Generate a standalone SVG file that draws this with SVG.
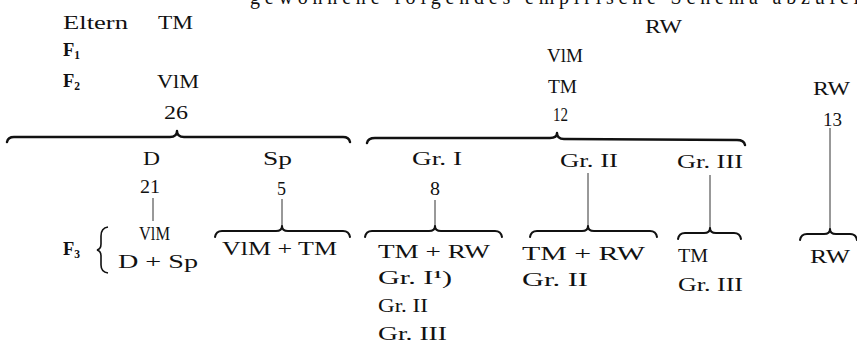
<svg xmlns="http://www.w3.org/2000/svg" width="857" height="349" viewBox="0 0 857 349">
<style>
text{font-family:"Liberation Serif","DejaVu Serif",serif;font-size:18.5px;fill:#111;}
.b{font-weight:bold;}
.sub{font-size:11.5px;font-weight:bold;}
.sup{font-size:10.5px;font-weight:bold;}
.hd{font-size:20px;}
.br{fill:none;stroke:#111;stroke-width:2;stroke-linecap:round;stroke-linejoin:round;}
.bbig{fill:none;stroke:#111;stroke-width:2.4;stroke-linecap:round;stroke-linejoin:round;}
.ln{stroke:#333;stroke-width:1;}
</style>
<rect width="857" height="349" fill="#fff"/>

<g id="header">
<text class="hd" x="250" y="4" textLength="648" lengthAdjust="spacing">gewonnene folgendes empirische Schema abzuleiten</text>
</g>

<g id="row-labels">
<text x="63" y="29" textLength="65" lengthAdjust="spacingAndGlyphs">Eltern</text>
<text x="63" y="56" class="b">F<tspan class="sub" dy="3">1</tspan></text>
<text x="63" y="87" class="b">F<tspan class="sub" dy="3">2</tspan></text>
<text x="63" y="255" class="b">F<tspan class="sub" dy="3">3</tspan></text>
</g>

<g id="tm-line">
<text x="158" y="29" textLength="35" lengthAdjust="spacingAndGlyphs">TM</text>
<text x="157" y="88" textLength="42" lengthAdjust="spacingAndGlyphs">VlM</text>
<text x="164" y="119" textLength="24" lengthAdjust="spacingAndGlyphs">26</text>
</g>

<g id="rw-line">
<text x="645" y="33" textLength="37" lengthAdjust="spacingAndGlyphs">RW</text>
<text x="547" y="62" textLength="36" lengthAdjust="spacingAndGlyphs">VlM</text>
<text x="548" y="93" textLength="29" lengthAdjust="spacingAndGlyphs">TM</text>
<text x="553" y="121" textLength="15" lengthAdjust="spacingAndGlyphs">12</text>
</g>

<g id="rw-right">
<text x="813" y="95" textLength="37" lengthAdjust="spacingAndGlyphs">RW</text>
<text x="823" y="126" textLength="19" lengthAdjust="spacingAndGlyphs">13</text>
</g>

<g id="group-D">
<text x="143" y="165" textLength="17" lengthAdjust="spacingAndGlyphs">D</text>
<text x="140" y="193" textLength="20" lengthAdjust="spacingAndGlyphs">21</text>
</g>
<g id="group-Sp">
<text x="263" y="165" textLength="29" lengthAdjust="spacingAndGlyphs">Sp</text>
<text x="277" y="195" textLength="9" lengthAdjust="spacingAndGlyphs">5</text>
</g>
<g id="group-GrI">
<text x="412" y="165" textLength="50" lengthAdjust="spacingAndGlyphs">Gr. I</text>
<text x="430" y="195" textLength="10" lengthAdjust="spacingAndGlyphs">8</text>
</g>
<g id="group-GrII">
<text x="560" y="167" textLength="58" lengthAdjust="spacingAndGlyphs">Gr. II</text>
</g>
<g id="group-GrIII">
<text x="677" y="168" textLength="66" lengthAdjust="spacingAndGlyphs">Gr. III</text>
</g>

<g id="f3-D">
<path d="M108,227 Q101,228 101,236 L101,244 Q101,249 97,250 Q101,251 101,256 L101,265 Q101,272 108,273" fill="none" stroke="#111" stroke-width="1.6"/>
<text x="139" y="240" textLength="31" lengthAdjust="spacingAndGlyphs">VlM</text>
<text x="118" y="268" textLength="80" lengthAdjust="spacingAndGlyphs">D + Sp</text>
</g>
<g id="f3-Sp">
<text x="222" y="255" textLength="115" lengthAdjust="spacingAndGlyphs">VlM + TM</text>
</g>
<g id="f3-GrI">
<text x="378" y="258" textLength="112" lengthAdjust="spacingAndGlyphs">TM + RW</text>
<text x="378" y="284" textLength="74" lengthAdjust="spacingAndGlyphs">Gr. I<tspan class="sup" dy="-6">1</tspan><tspan dy="6">)</tspan></text>
<text x="378" y="312" textLength="50" lengthAdjust="spacingAndGlyphs">Gr. II</text>
<text x="378" y="340" textLength="69" lengthAdjust="spacingAndGlyphs">Gr. III</text>
</g>
<g id="f3-GrII">
<text x="522" y="260" textLength="123" lengthAdjust="spacingAndGlyphs">TM + RW</text>
<text x="522" y="286" textLength="66" lengthAdjust="spacingAndGlyphs">Gr. II</text>
</g>
<g id="f3-GrIII">
<text x="678" y="262" textLength="30" lengthAdjust="spacingAndGlyphs">TM</text>
<text x="678" y="291" textLength="65" lengthAdjust="spacingAndGlyphs">Gr. III</text>
</g>
<g id="f3-RW">
<text x="810" y="263" textLength="40" lengthAdjust="spacingAndGlyphs">RW</text>
</g>

<g id="connectors">
<path class="bbig" d="M7,142 Q8,137 14,137 L170,137 Q177,137 177,131 Q177,137 184,137 L343,137 Q349,137 350,142"/>
<path class="bbig" d="M367,143 Q368,138 375,138 L550,138 Q557,138 557,133 Q557,139 564,139 L737,140 Q744,140 745,145"/>
<line class="ln" x1="153" y1="198" x2="153" y2="221"/>
<line class="ln" x1="282" y1="199" x2="282" y2="226"/>
<line class="ln" x1="435" y1="200" x2="435" y2="226"/>
<line class="ln" x1="588" y1="173" x2="588" y2="226"/>
<line class="ln" x1="710" y1="175" x2="710" y2="228"/>
<line class="ln" x1="830" y1="128" x2="830" y2="229"/>
<path class="br" d="M215,237 Q216,231 222,231 L276,231 Q282,231 282,226 Q282,231 288,231 L343,231 Q349,231 350,237"/>
<path class="br" d="M365,237 Q366,231 372,231 L429,231 Q435,231 435,226 Q435,231 441,231 L495,231 Q501,231 502,237"/>
<path class="br" d="M530,237 Q531,231 537,231 L582,231 Q588,231 588,226 Q588,231 594,231 L650,231 Q656,231 657,237"/>
<path class="br" d="M678,239 Q679,233 685,233 L704,233 Q710,233 710,228 Q710,233 716,233 L734,233 Q740,233 741,239"/>
<path class="br" d="M800,240 Q801,234 807,234 L824,234 Q830,234 830,229 Q830,234 836,234 L850,234 Q856,234 857,240"/>
</g>
</svg>
